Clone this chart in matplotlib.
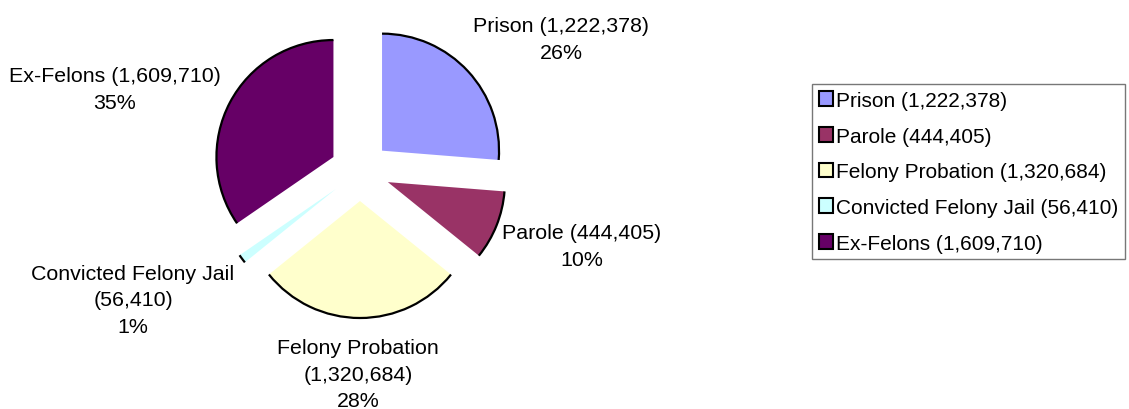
import matplotlib
matplotlib.use("Agg")
import matplotlib.pyplot as plt
from matplotlib.patches import Arc, Patch

categories = ["Prison", "Parole", "Felony Probation", "Convicted Felony Jail", "Ex-Felons"]
values = [1222378, 444405, 1320684, 56410, 1609710]
colors = ["#9999FF", "#993366", "#FFFFCC", "#CCFFFF", "#660066"]

plt.rcParams['font.family'] = ['Liberation Sans', 'DejaVu Sans']
FS = 15.4

fig = plt.figure(figsize=(11.29, 4.10), dpi=100)
ax = fig.add_axes([0, 0, 1, 1])

R = 117
wedges, _ = ax.pie(values, colors=colors, startangle=90, counterclock=False,
                   center=(360, 238), radius=R, explode=[30] * len(values),
                   wedgeprops=dict(linewidth=0))
for w in wedges:
    ax.add_patch(Arc(w.center, 2 * w.r, 2 * w.r, theta1=w.theta1, theta2=w.theta2,
                     color="black", lw=1.6))

ax.set_xlim(0, 1129)
ax.set_ylim(0, 410)
ax.set_aspect('equal')
ax.axis('off')

total = sum(values)
label_pos = [(561, 370), (582, 163), (358, 34.5), (133, 109), (115, 320)]
for cat, v, (x, y) in zip(categories, values, label_pos):
    pct = f"{round(100 * v / total)}%"
    if cat in ("Felony Probation", "Convicted Felony Jail"):
        txt = f"{cat}\n({v:,})\n{pct}"
    else:
        txt = f"{cat} ({v:,})\n{pct}"
    ax.text(x, y, txt, ha='center', va='center', fontsize=FS, linespacing=1.5)

handles = [Patch(facecolor=c, edgecolor='black', linewidth=1.5) for c in colors]
labels = [f"{c} ({v:,})" for c, v in zip(categories, values)]
leg = fig.legend(handles, labels, loc='upper left',
                 bbox_to_anchor=(812 / 1129, 1 - 85 / 410),
                 fontsize=15.0, frameon=True, fancybox=False, shadow=False,
                 handlelength=0.7, handleheight=0.7, handletextpad=0.12,
                 labelspacing=0.8, borderpad=0.33, borderaxespad=0)
leg.get_frame().set_edgecolor('#555555')
leg.get_frame().set_linewidth(1.0)

fig.savefig("out.png", dpi=100)
